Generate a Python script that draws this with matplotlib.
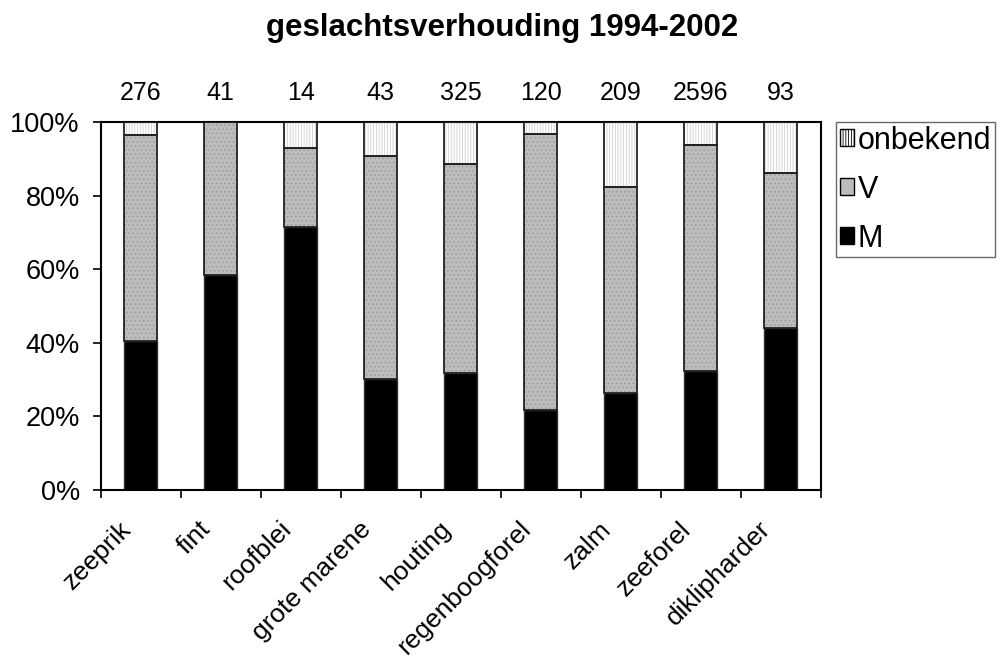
import matplotlib
matplotlib.use("Agg")
import matplotlib.pyplot as plt
import matplotlib.transforms as mtransforms
import numpy as np
from matplotlib.patches import Patch

plt.rcParams['font.family'] = ['Liberation Sans', 'DejaVu Sans']
plt.rcParams['hatch.linewidth'] = 0.6

species = ["zeeprik", "fint", "roofblei", "grote marene", "houting",
           "regenboogforel", "zalm", "zeeforel", "diklipharder"]
totals = [276, 41, 14, 43, 325, 120, 209, 2596, 93]
pct_M = [40.6, 58.5, 71.4, 30.2, 31.7, 21.7, 26.3, 32.3, 44.1]
pct_V = [55.8, 41.5, 21.5, 60.5, 56.9, 75.0, 55.9, 61.4, 41.9]
pct_onbekend = [100 - m - v for m, v in zip(pct_M, pct_V)]

fig = plt.figure(figsize=(10.04, 6.68), dpi=100)
ax = fig.add_axes([0.1003, 0.2665, 0.7171, 0.5509])

x = np.arange(len(species))
w = 0.41
M = np.array(pct_M)
V = np.array(pct_V)
O = np.array(pct_onbekend)

# M: solid black
ax.bar(x, M, w, color="black", edgecolor="#333333", linewidth=1.0, zorder=2)
# V: grey dither
ax.bar(x, V, w, bottom=M, color="#bcbcbc", edgecolor="#9a9a9a", hatch="....",
       linewidth=0, zorder=2)
ax.bar(x, V, w, bottom=M, fill=False, edgecolor="#222222", linewidth=1.3, zorder=3)
# onbekend: white with faint vertical dotted lines
ax.bar(x, O, w, bottom=M + V, color="white", edgecolor="#cfcfcf", hatch="||||||",
       linewidth=0, zorder=2)
ax.bar(x, O, w, bottom=M + V, fill=False, edgecolor="#222222", linewidth=1.3, zorder=3)

ax.set_xlim(-0.5, len(species) - 0.5)
ax.set_ylim(0, 100)
ax.set_yticks(np.arange(0, 101, 20))
ax.set_yticklabels([f"{v}%" for v in range(0, 101, 20)], fontsize=19.5)
ax.set_xticks(np.arange(-0.5, len(species), 1.0))
ax.set_xticklabels([])
ax.tick_params(axis="x", length=6, width=1.2, direction="out")
ax.tick_params(axis="y", length=6, width=1.2, direction="out", pad=9)
for s in ax.spines.values():
    s.set_linewidth(1.5)
    s.set_color("black")

# rotated category labels, right end just left of the category centre
lab_tr = ax.get_xaxis_transform() + mtransforms.ScaledTranslation(
    -22 / 100, -27 / 100, fig.dpi_scale_trans)
for xi, name in zip(x, species):
    ax.text(xi, 0, name, rotation=45, ha="right", va="top",
            rotation_mode="anchor", fontsize=19, transform=lab_tr, clip_on=False)

for xi, n in zip(x, totals):
    ax.text(xi, 104.5, str(n), ha="center", va="bottom", fontsize=18,
            clip_on=False)

fig.text(0.5, 0.958, "geslachtsverhouding 1994-2002", ha="center", va="center",
         fontsize=22.5, fontweight="bold")

handles = [
    Patch(facecolor="white", edgecolor="black", hatch="||||||", label="onbekend"),
    Patch(facecolor="#bcbcbc", edgecolor="black", label="V"),
    Patch(facecolor="black", edgecolor="black", label="M"),
]
leg = fig.legend(handles=handles, loc="upper left", bbox_to_anchor=(0.8327, 0.8174),
                 fontsize=22, frameon=True, fancybox=False, handlelength=0.46,
                 handleheight=0.46, handletextpad=0.12, labelspacing=0.62,
                 borderpad=0.12, borderaxespad=0)
leg.get_frame().set_edgecolor("#444444")
leg.get_frame().set_linewidth(1.0)

fig.savefig("out.png", dpi=100)
